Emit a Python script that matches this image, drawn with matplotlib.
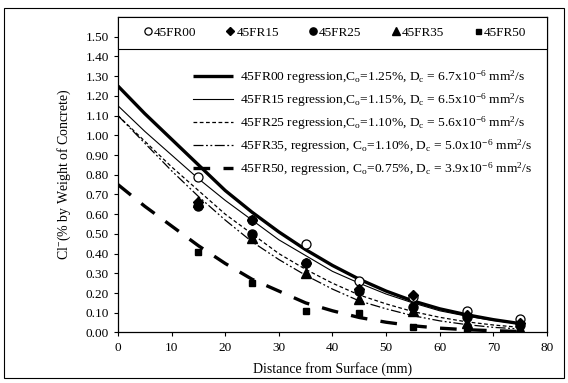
import matplotlib
matplotlib.use("Agg")
import matplotlib.pyplot as plt
from matplotlib.patches import Rectangle

plt.rcParams['font.family'] = ['Liberation Serif', 'DejaVu Serif']
plt.rcParams['mathtext.fontset'] = 'custom'
plt.rcParams['mathtext.rm'] = 'Liberation Serif'
plt.rcParams['mathtext.default'] = 'regular'

# Measured chloride content at each depth (mm)
depth = [15, 25, 35, 45, 55, 65, 75]
fr00 = [0.79, 0.57, 0.45, 0.26, 0.18, 0.11, 0.07]
fr15 = [0.66, 0.57, 0.35, 0.22, 0.19, 0.09, 0.05]
fr25 = [0.64, 0.50, 0.35, 0.21, 0.13, 0.08, 0.04]
fr35 = [0.66, 0.48, 0.30, 0.17, 0.11, 0.05, 0.02]
fr50 = [0.41, 0.25, 0.11, 0.10, 0.03, 0.01, 0.00]

# Regression curves every 5 mm
x_fit = [0, 5, 10, 15, 20, 25, 30, 35, 40, 45, 50, 55, 60, 65, 70, 75]
fit00 = [1.25, 1.11, 0.98, 0.85, 0.72, 0.61, 0.51, 0.42, 0.34, 0.27, 0.21, 0.16, 0.12, 0.09, 0.065, 0.045]
fit15 = [1.15, 1.02, 0.90, 0.78, 0.67, 0.57, 0.47, 0.39, 0.31, 0.25, 0.195, 0.15, 0.11, 0.083, 0.061, 0.044]
fit25 = [1.10, 0.97, 0.84, 0.72, 0.60, 0.50, 0.40, 0.32, 0.25, 0.19, 0.145, 0.106, 0.077, 0.054, 0.038, 0.026]
fit35 = [1.10, 0.96, 0.82, 0.69, 0.57, 0.46, 0.37, 0.29, 0.22, 0.16, 0.12, 0.085, 0.059, 0.040, 0.026, 0.018]
fit50 = [0.75, 0.64, 0.54, 0.44, 0.35, 0.27, 0.21, 0.15, 0.11, 0.076, 0.052, 0.034, 0.022, 0.014, 0.009, 0.005]

names = ['45FR00', '45FR15', '45FR25', '45FR35', '45FR50']
fit_labels = [
    '45FR00 regression,C$_o$=1.25%, D$_c$ = 6.7x10$^{-6}$ mm$^2$/s',
    '45FR15 regression,C$_o$=1.15%, D$_c$ = 6.5x10$^{-6}$ mm$^2$/s',
    '45FR25 regression,C$_o$=1.10%, D$_c$ = 5.6x10$^{-6}$ mm$^2$/s',
    '45FR35, regression, C$_o$=1.10%, D$_c$ = 5.0x10$^{-6}$ mm$^2$/s',
    '45FR50, regression, C$_o$=0.75%, D$_c$ = 3.9x10$^{-6}$ mm$^2$/s',
]

fig = plt.figure(figsize=(5.68, 3.83), dpi=100)
ax = fig.add_axes([0.2077, 0.1319, 0.7553, 0.8237])

# outer chart border
fig.patches.append(Rectangle((0.007, 0.012), 0.986, 0.968, transform=fig.transFigure,
                             fill=False, edgecolor='black', linewidth=0.8))

# regression lines
l0, = ax.plot(x_fit, fit00, color='black', lw=2.4, solid_capstyle='butt')
l1, = ax.plot(x_fit, fit15, color='black', lw=0.8)
l2, = ax.plot(x_fit, fit25, color='black', lw=0.9, dashes=(3, 2))
l3, = ax.plot(x_fit, fit35, color='black', lw=0.9, dashes=(8, 2, 1.5, 2, 1.5, 2))
l4, = ax.plot(x_fit, fit50, color='black', lw=2.4, dashes=(5, 4))

# measured points
m0, = ax.plot(depth, fr00, 'o', ms=6.5, mfc='white', mec='black', mew=0.9, ls='none')
m1, = ax.plot(depth, fr15, 'D', ms=5.5, color='black', ls='none')
m2, = ax.plot(depth, fr25, 'o', ms=6.5, color='black', ls='none')
m3, = ax.plot(depth, fr35, '^', ms=6.5, color='black', ls='none')
m4, = ax.plot(depth, fr50, 's', ms=4.5, color='black', ls='none')

ax.set_xlim(0, 80)
ax.set_ylim(0, 1.6)
ax.set_xticks(range(0, 81, 10))
ax.set_yticks([i / 10 for i in range(16)])
ax.set_yticklabels([f'{i / 10:.2f}' for i in range(16)])
ax.tick_params(labelsize=9.5, length=3, width=0.8, direction='out')
for s in ax.spines.values():
    s.set_linewidth(0.9)

ax.set_xlabel('Distance from Surface (mm)', fontsize=10, labelpad=6)
ax.set_ylabel('Cl$^{-}$(% by Weight of Concrete)', fontsize=10, labelpad=9)

# box behind the marker legend, full width of the plot
ax.add_patch(Rectangle((0, 1.44), 80, 0.16, facecolor='white', edgecolor='black',
                       linewidth=0.8, zorder=4, clip_on=False))
leg1 = ax.legend([m0, m1, m2, m3, m4], names, loc='center',
                 bbox_to_anchor=(40.5, 1.52), bbox_transform=ax.transData,
                 ncol=5, frameon=False, fontsize=9.5, handlelength=0.6,
                 handletextpad=0.15, columnspacing=2.3, markerscale=0.8)
leg1.set_zorder(5)
ax.add_artist(leg1)

ax.legend([l0, l1, l2, l3, l4], fit_labels, loc='upper left',
          bbox_to_anchor=(0.175, 0.838), frameon=False, fontsize=9.7,
          handlelength=3.0, handletextpad=0.5, labelspacing=0.4,
          borderaxespad=0, borderpad=0)

fig.savefig('out.png', dpi=100)
